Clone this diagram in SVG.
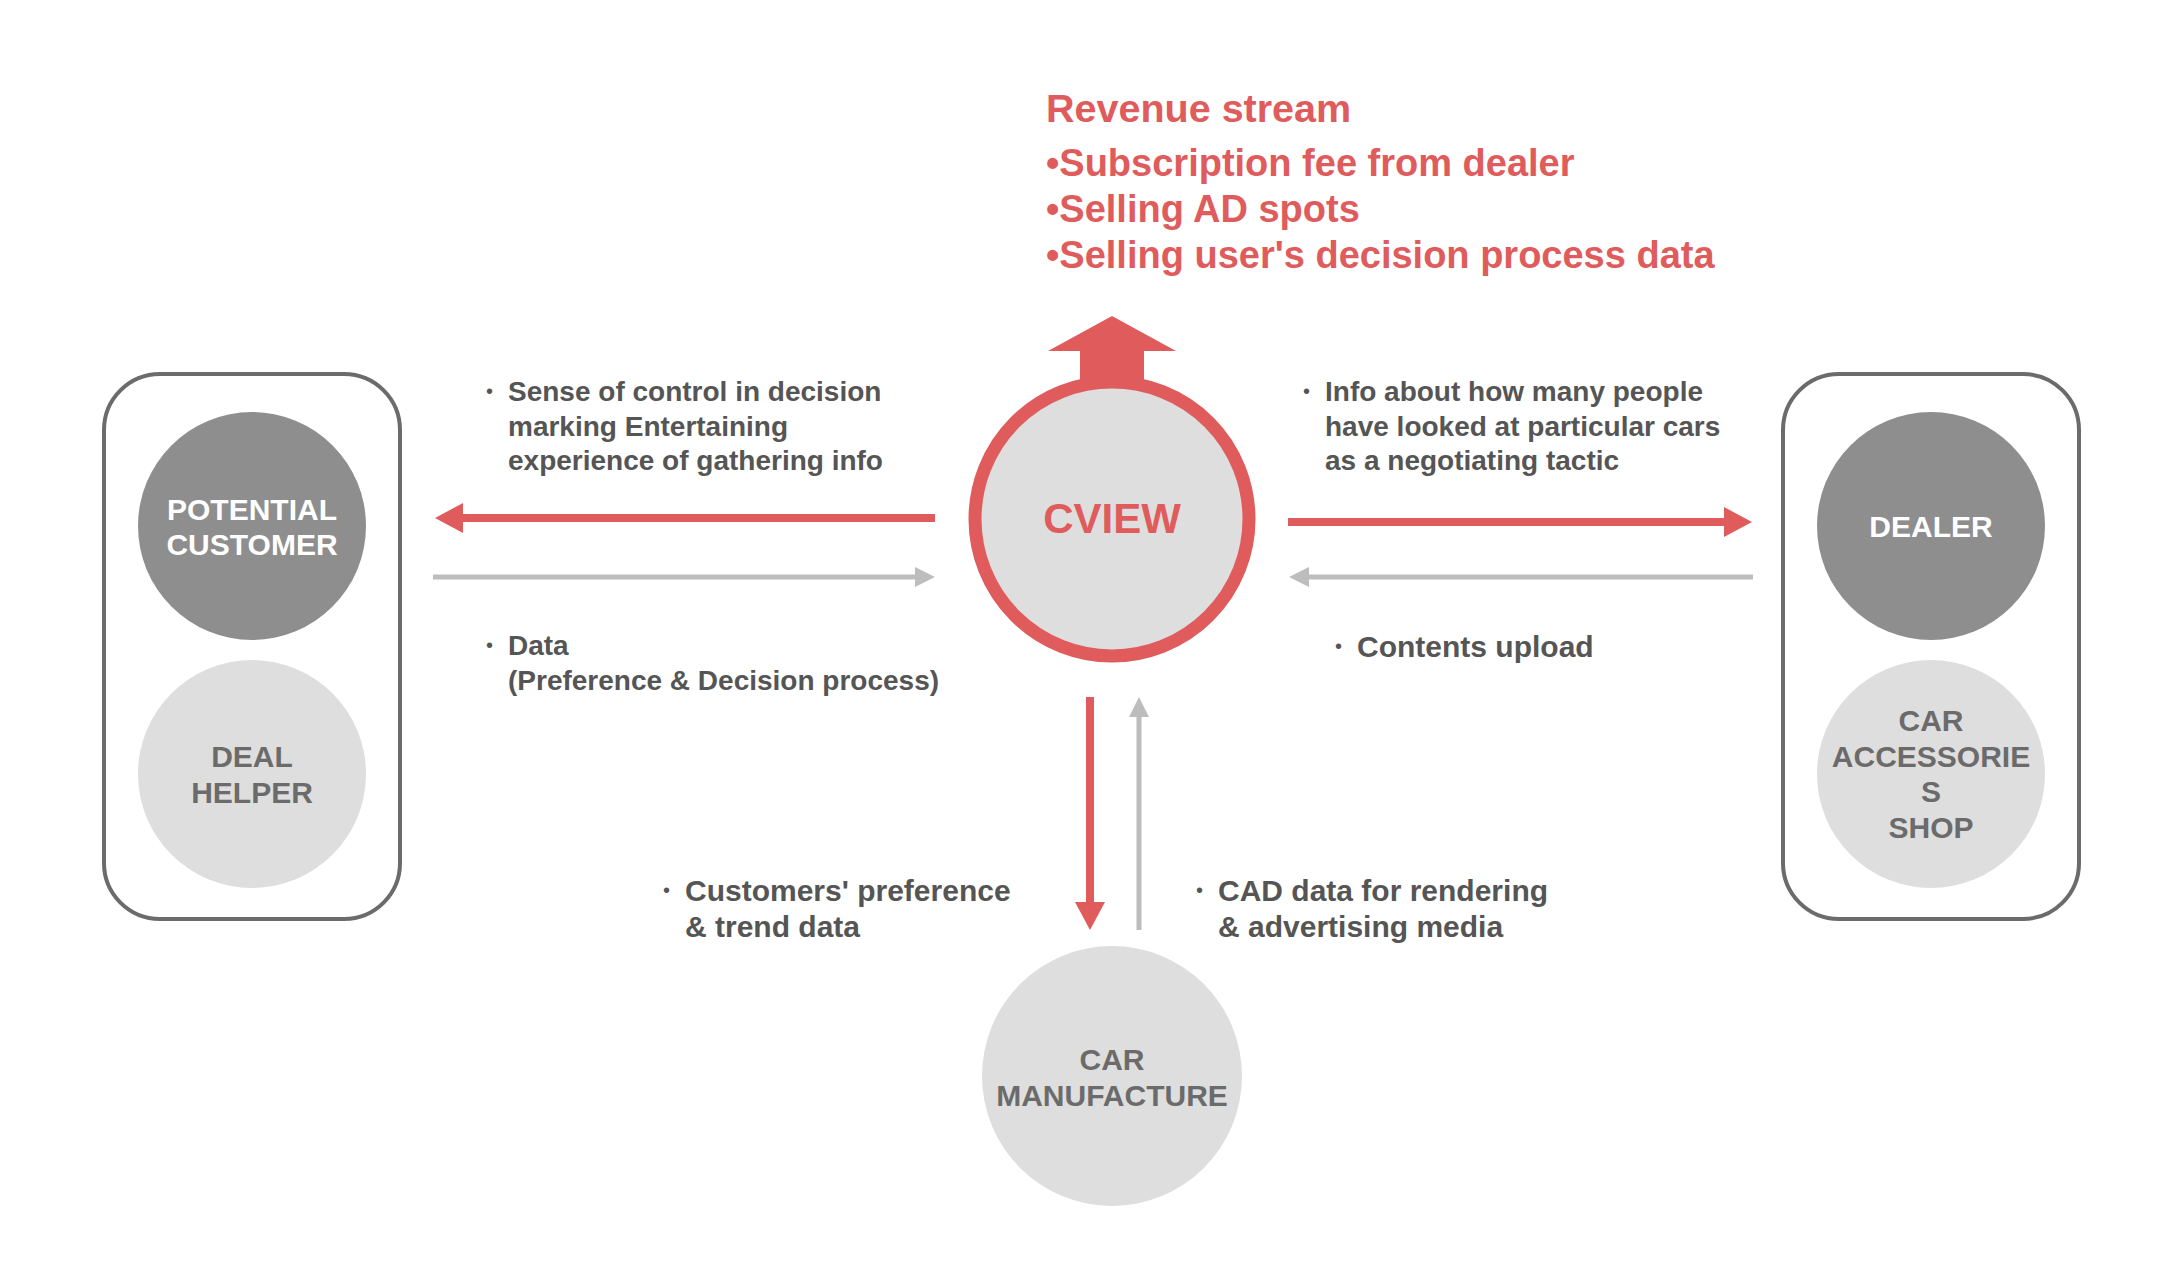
<svg xmlns="http://www.w3.org/2000/svg" width="2183" height="1273" viewBox="0 0 2183 1273">
<style>
.lbl{font-family:"Liberation Sans",Arial,Helvetica,sans-serif;font-weight:bold;font-size:28px;fill:#555555}
.lbl30{font-size:30px}
.dot{font-family:"Liberation Sans",Arial,sans-serif;font-size:20px;fill:#555555}
.rev{font-family:"Liberation Sans",Arial,Helvetica,sans-serif;font-weight:bold;font-size:38px;fill:#e05c5c}
.node{font-family:"Liberation Sans",Arial,Helvetica,sans-serif;font-weight:bold;font-size:30px;text-anchor:middle}
.wt{fill:#ffffff}
.gt{fill:#6b6b6b}
.dark{fill:#8e8e8e}
.light{fill:#dedede}
.box{fill:none;stroke:#6b6b6b;stroke-width:4}
.red{stroke:#e05c5c;stroke-width:8;fill:none}
.gray{stroke:#bdbdbd;stroke-width:5;fill:none}
</style>
<defs>
<marker id="mr" viewBox="0 0 28 30" refX="1" refY="15" markerWidth="28" markerHeight="30" markerUnits="userSpaceOnUse" orient="auto">
<path d="M0,0 L28,15 L0,30 z" fill="#e05c5c"/>
</marker>
<marker id="mg" viewBox="0 0 20 20" refX="1" refY="10" markerWidth="20" markerHeight="20" markerUnits="userSpaceOnUse" orient="auto">
<path d="M0,0 L20,10 L0,20 z" fill="#bdbdbd"/>
</marker>
</defs>
<rect width="2183" height="1273" fill="#ffffff"/>

<g id="revenue">
<text class="rev" x="1046" y="122" style="font-size:39.5px">Revenue stream</text>
<text class="rev" x="1046" y="176">•Subscription fee from dealer</text>
<text class="rev" x="1046" y="222">•Selling AD spots</text>
<text class="rev" x="1046" y="268">•Selling user's decision process data</text>
</g>

<g id="customer-group">
<rect class="box" x="104" y="374" width="296" height="545" rx="56" ry="56"/>
<g id="potential-customer">
<circle class="dark" cx="252" cy="526" r="114"/>
<text class="node wt" x="252" y="520">POTENTIAL</text>
<text class="node wt" x="252" y="555">CUSTOMER</text>
</g>
<g id="deal-helper">
<circle class="light" cx="252" cy="774" r="114"/>
<text class="node gt" x="252" y="767">DEAL</text>
<text class="node gt" x="252" y="803">HELPER</text>
</g>
</g>

<g id="dealer-group">
<rect class="box" x="1783" y="374" width="296" height="545" rx="56" ry="56"/>
<g id="dealer">
<circle class="dark" cx="1931" cy="526" r="114"/>
<text class="node wt" x="1931" y="537">DEALER</text>
</g>
<g id="car-accessories-shop">
<circle class="light" cx="1931" cy="774" r="114"/>
<text class="node gt" x="1931" y="731">CAR</text>
<text class="node gt" x="1931" y="767">ACCESSORIE</text>
<text class="node gt" x="1931" y="802">S</text>
<text class="node gt" x="1931" y="838">SHOP</text>
</g>
</g>

<g id="cview">
<path d="M1048,351 L1112,316 L1176,351 L1144,351 L1144,390 L1080,390 L1080,351 z" fill="#e05c5c"/>
<circle cx="1112" cy="519" r="137" fill="#dedede" stroke="#e05c5c" stroke-width="13"/>
<text class="node" x="1112" y="533" style="font-size:42px;fill:#e05c5c">CVIEW</text>
</g>

<g id="car-manufacture">
<circle class="light" cx="1112" cy="1076" r="130"/>
<text class="node gt" x="1112" y="1070">CAR</text>
<text class="node gt" x="1112" y="1106">MANUFACTURE</text>
</g>

<g id="connectors">
<line class="red" x1="935" y1="518" x2="462" y2="518" marker-end="url(#mr)"/>
<line class="gray" x1="433" y1="577" x2="916" y2="577" marker-end="url(#mg)"/>
<line class="red" x1="1288" y1="522" x2="1725" y2="522" marker-end="url(#mr)"/>
<line class="gray" x1="1753" y1="577" x2="1308" y2="577" marker-end="url(#mg)"/>
<line class="red" x1="1090" y1="697" x2="1090" y2="903" marker-end="url(#mr)"/>
<line class="gray" x1="1139" y1="930" x2="1139" y2="716" marker-end="url(#mg)"/>
</g>

<g id="labels">
<text class="dot" x="486" y="398">•</text>
<text class="lbl" x="508" y="401">Sense of control in decision</text>
<text class="lbl" x="508" y="436">marking Entertaining</text>
<text class="lbl" x="508" y="470">experience of gathering info</text>

<text class="dot" x="486" y="652">•</text>
<text class="lbl" x="508" y="655">Data</text>
<text class="lbl" x="508" y="690">(Preference &amp; Decision process)</text>

<text class="dot" x="1303" y="398">•</text>
<text class="lbl" x="1325" y="401">Info about how many people</text>
<text class="lbl" x="1325" y="436">have looked at particular cars</text>
<text class="lbl" x="1325" y="470">as a negotiating tactic</text>

<text class="dot" x="1335" y="653">•</text>
<text class="lbl lbl30" x="1357" y="657">Contents upload</text>

<text class="dot" x="663" y="897">•</text>
<text class="lbl lbl30" x="685" y="901">Customers' preference</text>
<text class="lbl lbl30" x="685" y="937">&amp; trend data</text>

<text class="dot" x="1196" y="897">•</text>
<text class="lbl lbl30" x="1218" y="901">CAD data for rendering</text>
<text class="lbl lbl30" x="1218" y="937">&amp; advertising media</text>
</g>
</svg>
